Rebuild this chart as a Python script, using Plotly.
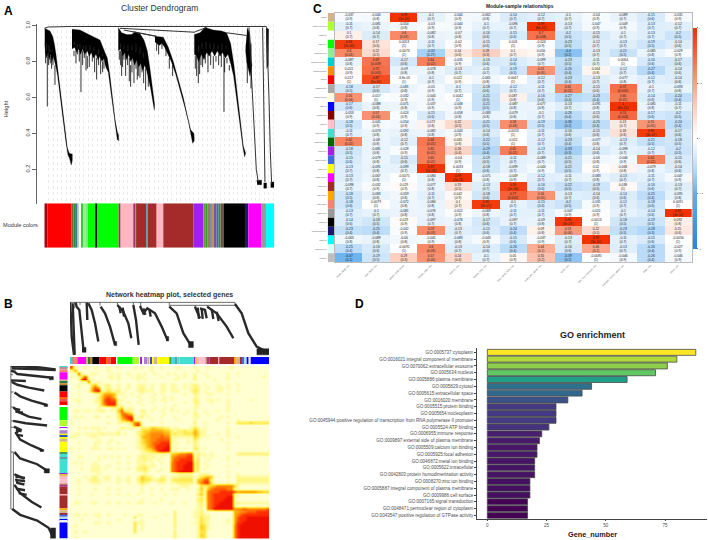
import plotly.graph_objects as go

W, H = 708, 540

# ---------- panel A: module tree, x in leaf position, y in Height ----------
a_masses = [
    [(134,.985),(150,.97),(158,.94),(163,.90),(168,.84),(172,.78),(178,.68),(184,.58),(190,.48),(196,.39),(202,.32),(208,.29),(217,.285),
     (217,.25),(214,.225),(209,.26),(204,.28),(198,.35),(192,.44),(186,.54),(179,.65),(173,.72),(168,.77),(164,.80),(160,.83),(156,.80),(152,.84),(148,.81),(144,.85),(140,.82),(136,.85),(134,.90)],
    [(216,.98),(240,.975),(262,.955),(285,.935),(300,.92),(315,.85),(322,.82),(330,.72),(338,.58),(345,.48),(352,.41),(356,.39),
     (356,.36),(352,.365),(348,.42),(340,.53),(332,.66),(325,.74),(320,.76),(316,.78),(312,.82),(306,.80),(300,.83),(294,.81),(288,.84),(280,.82),(274,.85),(268,.83),(262,.86),(254,.84),(248,.87),(242,.84),(236,.87),(230,.85),(224,.88),(216,.87)],
    [(355,.99),(365,.96),(380,.95),(395,.95),(405,.965),(420,.955),(432,.92),(442,.86),(450,.76),(458,.63),(464,.56),
     (463,.53),(458,.59),(452,.65),(446,.70),(440,.75),(434,.78),(428,.75),(422,.79),(416,.77),(410,.81),(404,.78),(398,.82),(392,.80),(386,.84),(380,.81),(374,.85),(368,.83),(362,.87),(355,.86)],
    [(465,.94),(490,.935),(505,.88),(520,.80),(535,.70),(550,.60),(562,.50),(572,.42),(582,.40),
     (583,.36),(578,.345),(574,.39),(566,.46),(554,.55),(540,.65),(527,.73),(514,.80),(504,.84),(494,.88),(486,.90),(478,.89),(470,.90),(465,.91)],
    [(583,.95),(600,.96),(615,.99),(640,.975),(665,.97),(680,.96),(692,.90),(702,.78),(712,.62),(722,.44),(730,.33),(737,.29),
     (734,.27),(729,.32),(720,.45),(710,.60),(701,.72),(692,.79),(684,.84),(676,.82),(668,.85),(660,.83),(652,.86),(644,.83),(636,.86),(628,.83),(620,.85),(612,.81),(604,.84),(596,.80),(590,.83),(583,.84)],
    [(742,.99),(750,.95),(754,.80),(756,.78),(750,.72),(745,.76),(740,.80),(737,.86),(738,.90)],
    [(770,.14),(785,.14),(785,.115),(772,.115)],
    [(791,.125),(800,.125),(800,.095),(791,.095)],
    [(798,.99),(806,.98),(805,.78),(800,.76)],
    [(812,.13),(822,.13),(822,.10),(812,.10)],
]
a_links = [
    [(133,.985),(145,.992),(215,.995),(360,.995),(800,.995)],
    [(360,.985),(585,.963)],
    [(372,.975),(470,.94)],
    [(400,.965),(470,.94)],
    [(585,.965),(620,.99)],
    [(680,.96),(740,.945)],
    [(747,.99),(752,.80),(757,.60),(763,.40),(769,.20),(775,.13)],
    [(788,.99),(791,.60),(795,.13)],
    [(800,.99),(803,.84),(807,.60),(811,.30),(815,.12)],
]
a_spike_x = [142,165,243,262,290,308,365,392,415,445,595,603,672,742,753,
             137,146,151,155,159,222,228,233,238,248,253,258,268,277,284,296,302,312,
             358,362,368,372,377,383,388,396,402,408,412,420,426,431,437,
             470,476,486,498,508,518,
             586,590,599,608,616,624,632,640,648,656,664,674,681,688]
a_spike_top = [.94,.78,.85,.83,.82,.80,.85,.78,.80,.72,.82,.85,.85,.80,.90,
               .86,.84,.83,.83,.84,.86,.86,.86,.86,.86,.86,.86,.86,.84,.84,.84,.84,.82,
               .86,.86,.84,.86,.84,.84,.82,.83,.81,.84,.81,.81,.80,.78,.76,
               .90,.90,.90,.88,.82,.78,
               .83,.83,.82,.83,.83,.84,.84,.83,.83,.84,.84,.82,.82,.78]
a_spike_low = [.55,.67,.63,.76,.70,.74,.72,.66,.72,.66,.68,.78,.52,.68,.65,
               .79,.78,.79,.76,.78,.83,.79,.84,.80,.78,.82,.75,.77,.80,.74,.78,.73,.76,
               .81,.78,.77,.81,.72,.78,.69,.74,.68,.76,.70,.71,.74,.68,.64,
               .86,.84,.87,.83,.76,.72,
               .76,.72,.73,.77,.79,.74,.78,.76,.80,.78,.77,.74,.79,.75]
a_fleck_x = [140,147,153,224,232,240,250,258,270,282,296,308,362,372,384,396,408,420,430,596,606,618,630,642,654,666,678]
a_fleck_top = [.90,.89,.87,.91,.90,.90,.89,.89,.89,.88,.87,.84,.90,.89,.89,.89,.90,.88,.85,.89,.90,.91,.90,.90,.89,.90,.89]
a_fleck_low = [.86,.85,.85,.89,.87,.87,.87,.86,.86,.86,.84,.83,.87,.87,.86,.86,.85,.84,.82,.85,.87,.87,.87,.86,.87,.86,.87]

a_strip_edges = [133,143,215,221,227,232,236,243,249,256,264,288,291,356,362,400,406,410,414,440,444,470,490,580,610,616,623,630,636,642,650,656,662,672,735,745,785,798,823]
a_strip_colors = ["#A80010","#FF0000","#6F6A30","#2E8B2E","#4A6FA5","#90C090","#FFFFF0","#33CC33","#90EE90","#80E880","#00FF00","#000000","#00FF00","#A52A6A",
                  "#FFB6C1","#A03070","#6A9A30","#A52A2A","#A52A2A","#40B0C0","#A52A2A","#FFB6C1","#A52A2A","#A020F0","#6A9A30","#2E9B2E","#9A7A50","#7090B0",
                  "#C09060","#8050A0","#3A70A0","#3A8A3A","#7A4A4A","#000000","#191970","#FF00FF","#999999","#00FFFF"]

# ---------- panel B: gene tree, same tree drawn on top and on the left ----------
b_roots = [
    [(210,122),(705,122)],
    [(510,131),(705,131)],
    [(212,122),(212,140)],[(224,122),(224,140)],[(240,122),(240,130)],[(262,122),(262,130)],[(300,122),(300,132)],
    [(352,122),(352,130)],[(400,122),(400,130)],[(422,122),(422,133)],[(508,122),(508,135)],[(585,131),(585,138)],[(622,131),(622,136)],[(705,122),(705,128)],
]
b_branches = [
    [(210,123),(213,165),(215,225),(222,280)],
    [(218,125),(224,280)],
    [(227,123),(230,135),(238,145),(242,185),(250,260)],
    [(260,123),(262,175)],
    [(265,125),(275,145),(285,185),(295,240)],
    [(302,135),(315,155),(330,195),(345,250)],
    [(352,130),(370,150),(385,185),(394,230)],
    [(358,135),(362,155)],[(368,138),(372,165)],
    [(400,130),(408,175),(416,250)],
    [(420,133),(430,155),(442,140),(465,155),(485,195),(502,235)],
    [(430,140),(436,160)],[(448,142),(452,165)],
    [(508,135),(530,155),(550,215),(575,255)],
    [(585,135),(600,170)],
    [(593,138),(597,172)],[(605,140),(608,172)],
    [(600,140),(615,145),(620,170)],
    [(622,135),(650,155),(680,195),(700,230)],
    [(635,142),(640,172)],[(650,150),(656,178)],
    [(705,127),(725,155),(745,215),(770,255),(805,273)],
]
b_blobs = [[(246,258),(258,258),(258,272),(246,272)], [(342,240),(350,240),(350,252),(342,252)], [(498,225),(506,225),(506,238),(498,238)],
           [(565,240),(580,240),(580,258),(565,258)], [(770,262),(807,262),(807,280),(770,280)]]
b_strip_edges = [210,216,222,232,258,265,270,277,298,318,324,332,348,352,398,418,422,426,432,442,448,452,456,462,472,508,515,525,532,538,582,586,590,598,615,620,628,655,658,702,710,720,725,732,740,746,752,807]
b_strip_colors = ["#30D8D8","#C09090","#FA8072","#FF00FF","#D2B48C","#2E7D32","#C08030","#000000","#FF0000","#FF6A00","#F05050","#FF0000","#FFFFFF","#00FF00","#ADFF2F",
                  "#FFFFFF","#A020F0","#FFFFFF","#B080D0","#D2B48C","#FFFF00","#3050D0","#FFFF00","#D2B48C","#FFFF00","#40A060","#40E0D0","#60A0A0","#40E0D0","#40E0D0",
                  "#A020F0","#E0C030","#FFB6C1","#FFC0CB","#D2B48C","#B03080","#A52A2A","#FFB6C1","#A52A2A","#FFA500","#D2B48C","#A52A2A","#4169E1","#ADD8E6","#0000FF","#F0F0FF","#0000FF"]

# topological overlap, coarse reading of the picture, digits 0 (pale) to 9 (red)
b_tom = [
    "7100100100 0100100001 0100100100 0010000100 0100000010 0000000000",
    "1500000000 0100000000 0000100000 0000000010 0000000000 0000000000",
    "0071001100 0010100100 1010010001 0100100100 1000000100 1000000000",
    "1013710000 0110100010 1100000100 0010100200 0100000100 0000000010",
    "0017911000 0010100000 1010000000 0110000200 0001000100 0000000000",
    "0001160010 0000000000 0000000000 0000000000 0000000000 0000000000",
    "0010003410 1200100100 1110100110 1100101210 1000100100 1000000000",
    "0010004750 1210100100 1210100110 1100101220 0100110100 0000000000",
    "0000015891 1311201000 1211100110 1110001320 1000110000 1000000000",
    "0010000113 5554110010 0100010100 0000100210 0110000100 0000000000",
    "0000000024 6764001000 1000100010 1000000110 0000000000 0000000000",
    "0110000124 7877110000 0100010110 1000000210 0110100100 0000100000",
    "0010000114 7888100100 1000100010 0000100220 0010000100 0000000000",
    "0000000014 6888110000 0100000000 0100000110 0000000100 0000000000",
    "0000000010 0011240110 0000010010 1000000110 0000000100 0000000000",
    "0110110112 1010472210 0210100100 1010010100 1000100100 0000000000",
    "0000000000 0000267540 0110000010 0000100210 0100000000 0000000000",
    "0101000110 0100257880 1201000100 0100000110 0000010100 0000000000",
    "0000000000 0000145791 0000100000 0010000100 0000100000 1000000000",
    "1000000000 0100111136 7100000100 0000000200 1000000100 3333433333",
    "0000000000 0000000026 8100000000 0000000100 0000000000 0000000000",
    "0010101110 1000021111 0222443322 0110001320 1000000100 0000000000",
    "0000000010 0000100000 1344555544 2122322531 1000000100 0000000000",
    "0110111112 1111201000 2345666655 2322333541 1000100100 0000000000",
    "1100001100 0000000000 1455666766 1111111431 0100000100 1000000000",
    "0000000010 0010000000 1345667777 1100010310 0000010000 0000000000",
    "0010000110 0100100000 1345677888 1010010210 0000000100 0000000000",
    "0000000100 0000000000 1235678889 0100000210 0000000000 0000000000",
    "1010001110 0110101000 1234578899 1010100320 1000000100 0000000000",
    "0000000000 0000000000 0123458999 0100000110 0000000000 0000000000",
    "0000000000 0000000000 0111111110 4456677021 1010000000 2222222222",
    "0011000010 1010100100 1221110100 5677788120 1010000100 0000000000",
    "0000000010 0000000000 1121101000 5778888130 0100000100 0000000000",
    "0101000100 0000100100 1110100100 6788899230 1000000000 1000000000",
    "0000001110 0100000000 1221110000 6788999230 0100000100 0000000000",
    "0001001110 1000100100 2231000100 6788999230 1000000000 0000000000",
    "0000001110 0000000000 1121001000 6789999220 0000000100 0000000000",
    "0000000010 0000000000 0010000000 0011111001 1100000000 1000000000",
    "0000101200 1100100100 1432100210 1112222013 4540000100 2111111111",
    "0010012210 1100101100 2433212320 2333333045 7720000000 2222222222",
    "0010001110 0000100100 1321001110 1122222046 8830000100 2111111111",
    "0000000000 0000000000 0100000000 0001110003 2345666664 1000000000",
    "0010000100 0100100000 0100100100 1110010014 1467777661 1000000000",
    "0000000000 0000000000 0100000000 0000000013 1677788887 5666665544",
    "0010001000 0100100100 1000100010 0100000024 1678888881 1000000000",
    "0000000000 0000000000 0000000000 0000000012 1678888991 1000000000",
    "0000000000 0000000000 0100000100 0000000023 1678889991 0000000000",
    "0110001100 0100100100 1100010000 1000100012 0678899991 2111111111",
    "0000000000 0000000000 0000000000 0000000012 0678999991 0000000000",
    "0000000000 0000000000 0000000000 0000000011 0679999995 6676666667",
    "0000000000 0000000000 0000000000 0200000112 0000000005 5667778888",
    "0110100110 0100001000 1100000010 0200000112 1100000005 6788888888",
    "0000000010 0000000003 0000010000 0200000113 1200000005 7889999999",
    "0001000000 0000100000 0100000000 0200000013 2100000105 7889999999",
    "0000000110 0100000003 1100000000 0200000113 2100000105 8899999999",
    "0100000000 0000000003 0100000000 0200000014 3100000006 8999999999",
    "0000000000 0000000003 0100000000 0100000014 3100000006 8999999999",
    "0100100000 0000000003 0000000000 0200000013 3000000006 8999999999",
    "0000000000 0000000000 0000000000 0200000014 3000000006 8999999999",
    "0100000000 0000000000 0000000000 0200000013 3000000006 8999999999",
]

# ---------- panel C: module-sample relationships ----------
c_modules = ["MEtan","MEgreenyellow","MEwhite","MEgreen","MElightgreen","MEdarkturquoise","MEdarkorange","MEred","MEdarkgrey","MElightyellow","MEblue","MEdarkred","MEpink","MEturquoise",
             "MEdarkgreen","MEpurple","MEroyalblue","MEyellow","MEmagenta","MEbrown","MEorange","MEsalmon","MEgrey60","MEblack","MEmidnightblue","MEcyan","MElightcyan","MEgrey"]
c_chips = ["#D2B48C","#ADFF2F","#FFFFFF","#00FF00","#90EE90","#00CED1","#FF8C00","#FF0000","#A9A9A9","#FFFFE0","#0000FF","#8B0000","#FFC0CB","#40E0D0",
           "#006400","#A020F0","#4169E1","#FFFF00","#FF00FF","#A52A2A","#FFA500","#FA8072","#999999","#000000","#191970","#00FFFF","#E0FFFF","#BEBEBE"]
c_samples = ["heart_atrial_cds","liver_adult_cds","spleen_fetal_tissue","breast_main_cds","thymus_cds","kidney_plus_cds","lung_upper_lobe_cds","ovary_left_whole_cds",
             "testis_cds","skin_non_exposed_cds","stomach_fundus_gland_cds","brain_cds","uterus_cds"]
c_cor = [
    ["-0.037","-0.044","0.99","-0.1","-0.044","-0.062","-0.14","-0.12","-0.1","-0.04","-0.089","-0.15","-0.035"],
    ["-0.11","-0.081","-0.054","-0.03","-0.044","-0.1","-0.096","0.99","-0.13","-0.047","-0.049","-0.13","-0.12"],
    ["0.1","-0.14","0.6","-0.082","-0.07","-0.16","-0.15","0.7","-0.2","-0.15","-0.1","-0.13","-0.2"],
    ["0.94","0.17","0.0053","-0.11","-0.02","-0.15","0.003","-0.024","-0.23","-0.12","-0.13","-0.19","-0.14"],
    ["0.6","0.22","-0.0073","-0.32","0.14","0.28","0.1","0.056","-0.4","-0.13","-0.21","-0.085","-0.029"],
    ["-0.087","0.69","-0.17","0.64","-0.035","-0.16","-0.14","-0.099","-0.23","-0.11","0.0064","-0.16","-0.17"],
    ["0.051","0.72","-0.09","-0.078","-0.13","-0.11","-0.19","0.55","-0.26","0.064","-0.12","-0.27","-0.14"],
    ["0.017","0.87","-3.8e-05","-0.1","0.022","-0.061","0.0047","-0.12","-0.23","-0.13","-0.077","-0.12","-0.14"],
    ["-0.18","-0.17","-0.081","-0.05","-0.1","-0.18","-0.12","-0.11","0.61","-0.15","0.72","-0.1","-0.093"],
    ["0.56","-0.017","-0.032","-0.044","0.0042","-0.21","0.087","-0.16","-0.27","-0.23","0.66","-0.14","-0.24"],
    ["-0.17","-0.088","-0.071","-0.037","-0.048","-0.21","-0.087","-0.077","-0.13","-0.091","1","-0.085","-0.11"],
    ["-0.053","0.57","-0.024","-0.15","-0.058","-0.083","-0.079","-0.1","-0.26","-0.15","0.74","-0.17","-0.2"],
    ["-0.18","-0.041","-0.054","0.072","0.22","-0.21","0.58","-0.19","-0.36","-0.25","0.13","0.55","-0.24"],
    ["-0.11","-0.073","-0.092","-0.082","-0.043","-0.14","-0.0053","-0.11","-0.16","-0.15","0.18","0.95","-0.17"],
    ["0.62","-0.08","-0.12","0.68","0.065","-0.22","-0.011","-0.12","-0.23","-0.077","-0.13","-0.21","-0.18"],
    ["-0.18","-0.081","-0.028","0.65","0.26","-0.29","0.65","-0.13","-0.33","-0.14","-0.098","-0.12","-0.2"],
    ["-0.15","-0.079","-0.15","0.65","-0.04","-0.19","-0.11","-0.089","-0.21","-0.06","-0.046","0.64","-0.15"],
    ["-0.13","-0.091","-0.099","0.97","0.0033","-0.18","-0.099","-0.044","-0.21","0.02","0.068","-0.079","-0.14"],
    ["-0.13","-0.067","-0.0075","-0.084","0.99","-0.071","-0.049","-0.12","-0.11","-0.083","-0.13","-0.11","-0.047"],
    ["-0.098","-0.032","0.029","-0.077","0.19","-0.13","0.93","-0.16","-0.22","-0.19","0.038","-0.16","-0.13"],
    ["-0.18","-0.083","-0.059","-0.11","0.042","-0.18","0.77","0.56","-0.13","-0.14","-0.14","-0.25","-0.095"],
    ["-0.18","0.0079","-0.072","-0.084","0.1","0.95","-0.1","-0.15","-0.2","-0.031","-0.12","-0.18","0.0091"],
    ["-0.13","-0.1","-0.081","-0.076","-0.022","-0.069","-0.11","-0.11","-0.047","-0.021","-0.1","-0.14","0.99"],
    ["-0.14","-0.18","0.029","-0.097","-0.076","-0.17","-0.097","-0.09","0.96","-0.0013","-0.18","-0.19","0.092"],
    ["-0.23","-0.25","-0.032","0.59","-0.13","-0.15","-0.24","0.09","0.53","0.22","-0.23","-0.28","0.15"],
    ["-0.063","-0.089","-0.06","-0.045","-0.083","-0.043","-0.15","-0.037","-0.13","0.99","-0.11","-0.15","-0.0056"],
    ["-0.25","-0.16","-0.0092","0.6","-0.13","-0.14","-0.26","0.44","-0.16","0.46","-0.13","-0.26","-0.027"],
    ["-0.47","-0.19","0.29","0.57","0.24","-0.1","0.05","0.35","-0.39","-0.0085","-0.046","-0.26","-0.046"],
]
c_pval = [
    ["0.9","0.8","1e-10","0.7","0.9","0.8","0.7","0.7","0.7","0.9","0.7","0.6","0.9"],
    ["0.7","0.8","0.8","0.9","0.9","0.7","0.7","8e-12","0.7","0.9","0.9","0.7","0.7"],
    ["0.7","0.7","0.03","0.8","0.8","0.6","0.6","0.008","0.5","0.6","0.7","0.7","0.5"],
    ["2e-06","0.6","1","0.7","0.9","0.6","1","0.9","0.5","0.7","0.7","0.5","0.6"],
    ["0.03","0.5","1","0.27","0.6","0.3","0.7","0.9","0.2","0.7","0.5","0.8","0.9"],
    ["0.8","0.009","0.6","0.02","0.9","0.6","0.6","0.7","0.5","0.7","1","0.6","0.6"],
    ["0.9","0.005","0.8","0.8","0.7","0.7","0.5","0.05","0.4","0.8","0.7","0.4","0.6"],
    ["1","5e-05","1","0.7","0.9","0.8","1","0.7","0.4","0.7","0.8","0.7","0.6"],
    ["0.5","0.6","0.8","0.9","0.7","0.6","0.7","0.7","0.02","0.6","0.005","0.7","0.8"],
    ["0.04","1","0.9","0.9","1","0.5","0.8","0.6","0.4","0.4","0.01","0.6","0.4"],
    ["0.6","0.8","0.8","0.9","0.9","0.5","0.8","0.8","0.7","0.8","6e-13","0.8","0.7"],
    ["0.9","0.04","0.9","0.6","0.8","0.8","0.8","0.7","0.4","0.6","0.004","0.6","0.5"],
    ["0.5","0.9","0.9","0.8","0.5","0.5","0.04","0.5","0.2","0.4","0.7","0.05","0.4"],
    ["0.7","0.8","0.8","0.8","0.9","0.6","1","0.7","0.6","0.6","0.6","3e-07","0.6"],
    ["0.02","0.8","0.7","0.01","0.8","0.5","1","0.7","0.4","0.8","0.7","0.5","0.5"],
    ["0.5","0.8","0.9","0.02","0.4","0.4","0.02","0.7","0.3","0.6","0.7","0.7","0.5"],
    ["0.6","0.8","0.6","0.02","0.9","0.5","0.7","0.7","0.5","0.8","0.9","0.02","0.6"],
    ["0.7","0.8","0.7","5e-08","1","0.6","0.7","0.9","0.5","0.9","0.8","0.8","0.6"],
    ["0.7","0.8","1","0.8","2e-11","0.8","0.9","0.7","0.7","0.8","0.7","0.7","0.9"],
    ["0.7","0.9","0.9","0.8","0.5","0.7","5e-06","0.6","0.5","0.5","1","0.6","0.7"],
    ["0.5","0.8","0.8","0.7","0.9","0.6","0.002","0.05","0.7","0.6","0.6","0.4","0.8"],
    ["0.6","1","0.8","0.8","0.7","4e-07","0.7","0.6","0.5","0.9","0.7","0.6","1"],
    ["0.7","0.7","0.8","0.8","0.9","0.8","0.7","0.7","0.9","0.9","0.7","0.6","3e-11"],
    ["0.6","0.5","0.9","0.7","0.8","0.6","0.7","0.8","3e-07","1","0.5","0.5","0.8"],
    ["0.4","0.4","0.9","0.03","0.7","0.6","0.4","0.8","0.06","0.5","0.5","0.3","0.6"],
    ["0.8","0.8","0.8","0.9","0.8","0.9","0.6","0.9","0.7","3e-10","0.7","0.6","1"],
    ["0.4","0.6","1","0.03","0.7","0.6","0.4","0.1","0.6","0.1","0.7","0.4","0.9"],
    ["0.1","0.5","0.3","0.04","0.4","0.7","0.9","0.2","0.2","1","0.9","0.4","0.9"],
]

# ---------- panel D: GO enrichment ----------
d_terms = ["GO:0005737:cytoplasm","GO:0016021:integral component of membrane","GO:0070062:extracellular exosome","GO:0005634:nucleus","GO:0005886:plasma membrane",
           "GO:0005829:cytosol","GO:0005615:extracellular space","GO:0016020:membrane","GO:0005515:protein binding","GO:0005654:nucleoplasm",
           "GO:0045944:positive regulation of transcription from RNA polymerase II promoter","GO:0005524:ATP binding","GO:0006955:immune response",
           "GO:0009897:external side of plasma membrane","GO:0005509:calcium ion binding","GO:0005925:focal adhesion","GO:0046872:metal ion binding",
           "GO:0005622:intracellular","GO:0042803:protein homodimerization activity","GO:0008270:zinc ion binding","GO:0005887:integral component of plasma membrane",
           "GO:0009986:cell surface","GO:0007165:signal transduction","GO:0048471:perinuclear region of cytoplasm","GO:0043547:positive regulation of GTPase activity"]
d_counts = [88,80,76,71,59,44,40,34,29,29,29,26,23,22,21,21,20,20,20,18,18,18,17,17,17]
d_colors = ["#FDE725","#B0DA3B","#8FCE4B","#5FC863","#1F9E89","#2E6F8E","#31688E","#3B528B","#443A83","#443A83","#443A83","#46337E","#481F70","#481A6C","#481769",
            "#481769","#471365","#471365","#471365","#440F60","#440F60","#440F60","#440154","#440154","#440154"]


def dx(left, right):
    return [left / W, right / W]


def dy(top, bottom):
    return [1 - bottom / H, 1 - top / H]


def joined(paths):
    xs, ys = [], []
    for p in paths:
        xs += [q[0] for q in p] + [None]
        ys += [q[1] for q in p] + [None]
    return xs, ys


def strip_parts(edges):
    centres = [(a + b) / 2 for a, b in zip(edges[:-1], edges[1:])]
    widths = [b - a for a, b in zip(edges[:-1], edges[1:])]
    return centres, widths


def verticals(xs, tops, lows):
    px, py = [], []
    for s, t, b in zip(xs, tops, lows):
        px += [s, s, None]
        py += [t, b, None]
    return px, py


hidden = dict(visible=False, showgrid=False, zeroline=False)
ink = "#1A1A1A"
fig = go.Figure()

# A tree
x, y = joined(a_masses)
fig.add_trace(go.Scatter(x=x, y=y, mode="lines", fill="toself", fillcolor="#000000", line=dict(color="#000000", width=0.3), xaxis="x", yaxis="y"))
x, y = joined(a_links)
fig.add_trace(go.Scatter(x=x, y=y, mode="lines", line=dict(color="#333333", width=1), xaxis="x", yaxis="y"))
x, y = verticals(a_spike_x, a_spike_top, a_spike_low)
fig.add_trace(go.Scatter(x=x, y=y, mode="lines", line=dict(color="#000000", width=0.8), xaxis="x", yaxis="y"))
x, y = verticals(a_fleck_x, a_fleck_top, a_fleck_low)
fig.add_trace(go.Scatter(x=x, y=y, mode="lines", line=dict(color="#555555", width=0.4), xaxis="x", yaxis="y"))

# A strip
c, w = strip_parts(a_strip_edges)
fig.add_trace(go.Bar(x=c, y=[1] * len(c), width=w, marker=dict(color=a_strip_colors, line=dict(width=0)), xaxis="x2", yaxis="y2"))

# B trees, the left one is the top one turned on its side
x, y = joined(b_roots)
fig.add_trace(go.Scatter(x=x, y=y, mode="lines", line=dict(color="#444444", width=0.8), xaxis="x3", yaxis="y3"))
fig.add_trace(go.Scatter(x=y, y=x, mode="lines", line=dict(color="#444444", width=0.8), xaxis="x5", yaxis="y5"))
x, y = joined(b_branches)
fig.add_trace(go.Scatter(x=x, y=y, mode="lines", line=dict(color="#2A2A2A", width=2.4), xaxis="x3", yaxis="y3"))
fig.add_trace(go.Scatter(x=y, y=x, mode="lines", line=dict(color="#2A2A2A", width=2.4), xaxis="x5", yaxis="y5"))
x, y = joined(b_blobs)
fig.add_trace(go.Scatter(x=x, y=y, mode="lines", fill="toself", fillcolor="#222222", line=dict(color="#222222", width=0.5), xaxis="x3", yaxis="y3"))
fig.add_trace(go.Scatter(x=y, y=x, mode="lines", fill="toself", fillcolor="#222222", line=dict(color="#222222", width=0.5), xaxis="x5", yaxis="y5"))

# B strips
c, w = strip_parts(b_strip_edges)
fig.add_trace(go.Bar(x=c, y=[1] * len(c), width=w, marker=dict(color=b_strip_colors, line=dict(width=0)), xaxis="x4", yaxis="y4"))
fig.add_trace(go.Bar(y=c, x=[1] * len(c), width=w, orientation="h", marker=dict(color=b_strip_colors, line=dict(width=0)), xaxis="x6", yaxis="y6"))

# B heatmap
tom = [[int(ch) for ch in row.replace(" ", "")] for row in b_tom]
fig.add_trace(go.Heatmap(z=tom, zmin=0, zmax=9, zsmooth="best", showscale=False, xaxis="x7", yaxis="y7",
                         colorscale=[[0, "#FFFFD2"], [0.11, "#FFFAA0"], [0.22, "#FFF47A"], [0.33, "#FFE84A"], [0.44, "#FFD028"],
                                     [0.55, "#FFB010"], [0.66, "#FF8A08"], [0.77, "#FF6004"], [0.88, "#FF3000"], [1, "#F01000"]]))

# C chips and heatmap
fig.add_trace(go.Bar(y=c_modules, x=[1] * len(c_modules), width=1, orientation="h", marker=dict(color=c_chips, line=dict(width=0)), xaxis="x8", yaxis="y8"))
c_text = [[f"{r}<br>({p})" for r, p in zip(rr, pp)] for rr, pp in zip(c_cor, c_pval)]
c_z = [[float(v) for v in rr] for rr in c_cor]
fig.add_trace(go.Heatmap(z=c_z, x=c_samples, y=c_modules, text=c_text, texttemplate="%{text}", textfont=dict(size=3.3, color="#222222"),
                         zmin=-1, zmax=1, xgap=0, ygap=0, xaxis="x9", yaxis="y9",
                         colorscale=[[0, "#1E88E5"], [0.25, "#62AEEE"], [0.35, "#B0D6F7"], [0.45, "#E6F2FC"], [0.5, "#FFFFFF"], [0.55, "#FDEFE9"],
                                     [0.65, "#FCCDBD"], [0.8, "#F88A68"], [0.9, "#F55A30"], [1, "#F23000"]],
                         colorbar=dict(x=693 / W, xanchor="left", thickness=4, thicknessmode="pixels", y=1 - 25 / H, yanchor="top", lenmode="pixels", len=221,
                                       tickvals=[-1, -0.5, 0, 0.5, 1], ticks="outside", ticklen=1.5, tickwidth=0.4, tickcolor="#777777",
                                       tickfont=dict(size=2.4, color="#666666"), outlinewidth=0, xpad=0, ypad=0)))

# D bars
fig.add_trace(go.Bar(y=d_terms, x=d_counts, width=0.88, orientation="h", marker=dict(color=d_colors, line=dict(color="#4A4A4A", width=0.8)), xaxis="x10", yaxis="y10"))

layout = dict(
    width=W, height=H, margin=dict(l=0, r=0, t=0, b=0), paper_bgcolor="white", plot_bgcolor="white", showlegend=False,
    font=dict(family="Liberation Sans, Arial, sans-serif", color="#222222"),
    # A
    xaxis=dict(domain=dx(44.3, 274.3), range=[133, 823], showgrid=True, griddash="dot", gridcolor="#EBEBEB", gridwidth=0.5, tick0=146, dtick=13.2,
               showticklabels=False, ticks="", zeroline=False, anchor="y"),
    yaxis=dict(domain=dy(20.9, 201.7), range=[0.01, 1.01], tickvals=[0.2, 0.4, 0.6, 0.8, 1.0], ticktext=["0.2", "0.4", "0.6", "0.8", "1.0"], tickangle=-90,
               tickfont=dict(size=5.6, color="#333333"), ticks="outside", ticklen=4, tickwidth=0.6, tickcolor="#666666", showline=True, linecolor="#666666", linewidth=0.6,
               anchor="free", position=35.7 / W, showgrid=False, zeroline=False),
    xaxis2=dict(domain=dx(44.3, 274.3), range=[133, 823], anchor="y2", **hidden),
    yaxis2=dict(domain=dy(201.3, 246), range=[0, 1], anchor="x2", **hidden),
    # B
    xaxis3=dict(domain=dx(70, 269), range=[210, 807], anchor="y3", **hidden),
    yaxis3=dict(domain=dy(300, 355.5), range=[285, 119], anchor="x3", **hidden),
    xaxis4=dict(domain=dx(70, 269), range=[210, 807], anchor="y4", **hidden),
    yaxis4=dict(domain=dy(356, 363.3), range=[0, 1], anchor="x4", **hidden),
    xaxis5=dict(domain=dx(10, 57), range=[119, 285], anchor="y5", **hidden),
    yaxis5=dict(domain=dy(365, 538.5), range=[807, 210], anchor="x5", **hidden),
    xaxis6=dict(domain=dx(59.3, 67.7), range=[0, 1], anchor="y6", **hidden),
    yaxis6=dict(domain=dy(365, 538.5), range=[807, 210], anchor="x6", **hidden),
    xaxis7=dict(domain=dx(70, 269), anchor="y7", **hidden),
    yaxis7=dict(domain=dy(365, 538.5), autorange="reversed", anchor="x7", **hidden),
    # C
    xaxis8=dict(domain=dx(327.7, 334.3), range=[0, 1], anchor="y8", **hidden),
    yaxis8=dict(domain=dy(10, 260.7), type="category", autorange="reversed", anchor="x8", showgrid=False, zeroline=False, tickmode="array", tickvals=c_modules,
                ticks="", tickfont=dict(size=2.1, color="#666666")),
    xaxis9=dict(domain=dx(335, 691.7), type="category", anchor="y9", side="bottom", tickmode="array", tickvals=c_samples, tickangle=-45, ticks="",
                tickfont=dict(size=2.4, color="#666666"), showgrid=False, zeroline=False, mirror=True, showline=True, linecolor="#BBBBBB", linewidth=0.7),
    yaxis9=dict(domain=dy(10, 260.7), type="category", autorange="reversed", anchor="x9", showticklabels=False, ticks="", showgrid=False, zeroline=False,
                mirror=True, showline=True, linecolor="#BBBBBB", linewidth=0.7),
    # D
    xaxis10=dict(domain=dx(476.7, 706.7), range=[-4.47, 92.6], tickvals=[0, 25, 50, 75], tickfont=dict(size=4.6, color="#4D4D4D"), ticks="outside", ticklen=1.5, tickwidth=0.5,
                 tickcolor="#444444", showline=True, linecolor="#444444", linewidth=0.8, showgrid=False, zeroline=False, anchor="y10"),
    yaxis10=dict(domain=dy(347, 518.7), type="category", range=[24.5, -0.63], tickmode="array", tickvals=d_terms, tickfont=dict(size=4.55, color="#4D4D4D"), ticks="outside", ticklen=1.5,
                 tickwidth=0.5, tickcolor="#444444", showline=True, linecolor="#444444", linewidth=0.8, showgrid=False, zeroline=False, anchor="x10"),
)
fig.update_layout(**layout)


def note(px, py, text, size, anchor="center", color=ink, angle=0):
    fig.add_annotation(x=px / W, y=1 - py / H, xref="paper", yref="paper", text=text, showarrow=False, xanchor=anchor, yanchor="middle",
                       font=dict(size=size, color=color), textangle=angle)


note(2, 8, "<b>A</b>", 12, "left", "#000000")
note(2, 303, "<b>B</b>", 12, "left", "#000000")
note(311, 6, "<b>C</b>", 12, "left", "#000000")
note(353, 303, "<b>D</b>", 12, "left", "#000000")
note(159, 5.5, "Cluster Dendrogram", 8.6, color="#333333")
note(6, 107, "Height", 5.8, color="#333333", angle=-90)
note(20, 223, "Module colors", 5.6, color="#333333")
note(169, 294, "<b>Network heatmap plot, selected genes</b>", 7, color="#333333")
note(520, 3.5, "<b>Module-sample relationships</b>", 4.9, color="#222222")
note(592, 333.7, "<b>GO enrichment</b>", 9, color="#222222")
note(592, 534.3, "<b>Gene_number</b>", 7.3, color="#222222")

fig.write_html("out.html", config={"displayModeBar": False}, post_script="document.body.style.margin='0px';")
